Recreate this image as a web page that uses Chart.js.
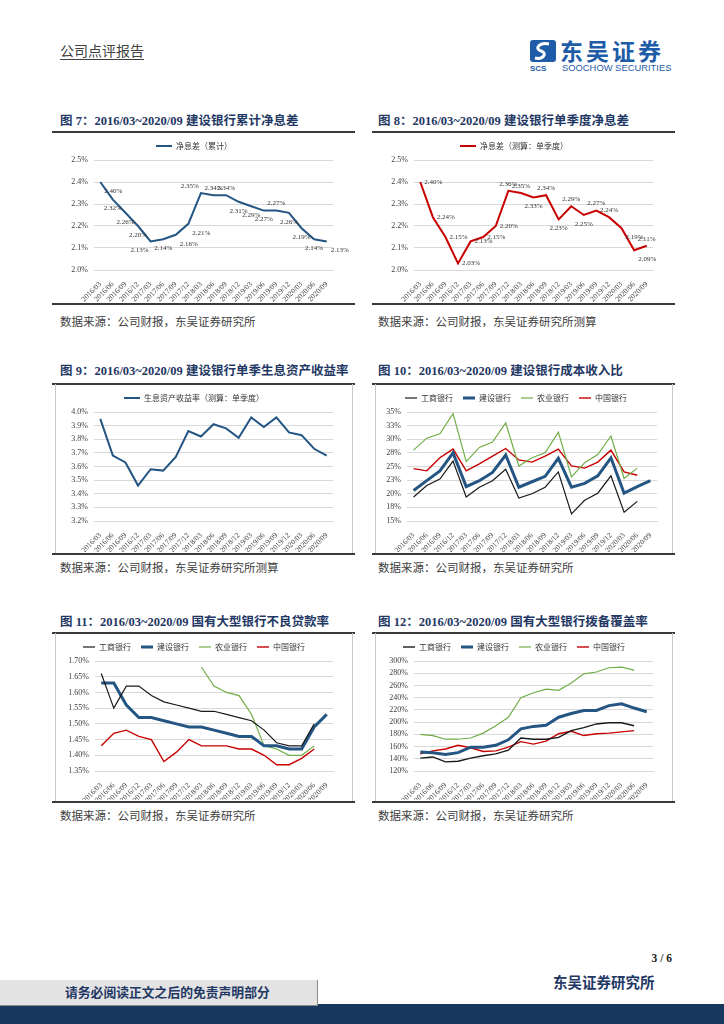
<!DOCTYPE html>
<html>
<head>
<meta charset="utf-8">
<script src="https://cdn.jsdelivr.net/npm/chart.js@4.4.0/dist/chart.umd.min.js"></script>
<style>
body{margin:0;width:724px;height:1024px;position:relative;background:#fff;overflow:hidden;font-family:"Liberation Serif","Noto Sans CJK SC",serif;}
.abs{position:absolute;white-space:nowrap;}
.title{font-weight:bold;font-size:12.5px;color:#1f3864;height:16px;line-height:16px;}
.rule{height:1.5px;background:#3a3a3a;}
.src{font-family:"Noto Sans CJK SC";font-size:11.5px;color:#404040;height:16px;line-height:16px;}
.box{border-left:1px solid #c8c8c8;border-right:1px solid #c8c8c8;box-sizing:border-box;}
.cw{position:absolute;}
</style>
</head>
<body>
<!-- header -->
<div class="abs" style="left:60px;top:40px;font-family:'Noto Sans CJK SC';font-size:14px;color:#404040;line-height:20px;text-decoration:underline;text-underline-offset:3px;">公司点评报告</div>
<svg class="abs" style="left:529px;top:39px" width="30" height="34">
  <rect x="1" y="1" width="26" height="22" rx="3" fill="#1f5ca8"/>
  <path d="M20 5 C10 3 5 10 12 12 C19 14 14 21 6 19" stroke="#fff" stroke-width="3" fill="none"/>
  <text x="1" y="32" font-family="Liberation Sans" font-weight="bold" font-size="8" fill="#1f5ca8">SCS</text>
</svg>
<div class="abs" style="left:560px;top:36px;font-family:'Noto Sans CJK SC';font-weight:bold;font-size:23px;color:#1f5ca8;letter-spacing:3px;line-height:28px;">东吴证券</div>
<div class="abs" style="left:562px;top:62px;font-family:'Liberation Sans';font-size:9.4px;color:#1f5ca8;line-height:11px;">SOOCHOW SECURITIES</div>

<!-- row 1 -->
<div class="abs title" style="left:60px;top:113px;">图 7：2016/03~2020/09 建设银行累计净息差</div>
<div class="abs title" style="left:378px;top:113px;">图 8：2016/03~2020/09 建设银行单季度净息差</div>
<div class="abs rule" style="left:52px;top:131px;width:303px;"></div>
<div class="abs rule" style="left:372px;top:131px;width:303px;"></div>
<div class="cw" style="left:55px;top:133px;width:297px;height:170px;"><canvas id="c7"></canvas></div>
<div class="cw" style="left:375px;top:133px;width:297px;height:170px;"><canvas id="c8"></canvas></div>
<div class="abs rule" style="left:52px;top:303px;width:303px;"></div>
<div class="abs rule" style="left:372px;top:303px;width:303px;"></div>
<div class="abs src" style="left:60px;top:313px;">数据来源：公司财报，东吴证券研究所</div>
<div class="abs src" style="left:378px;top:313px;">数据来源：公司财报，东吴证券研究所测算</div>

<!-- row 2 -->
<div class="abs title" style="left:60px;top:363px;">图 9：2016/03~2020/09 建设银行单季生息资产收益率</div>
<div class="abs title" style="left:378px;top:363px;">图 10：2016/03~2020/09 建设银行成本收入比</div>
<div class="abs rule" style="left:52px;top:383px;width:303px;"></div>
<div class="abs rule" style="left:372px;top:383px;width:303px;"></div>
<div class="abs box" style="left:55px;top:384px;width:298px;height:169px;"></div>
<div class="abs box" style="left:375px;top:384px;width:298px;height:169px;"></div>
<div class="cw" style="left:55px;top:384px;width:297px;height:168px;"><canvas id="c9"></canvas></div>
<div class="cw" style="left:375px;top:384px;width:297px;height:168px;"><canvas id="c10"></canvas></div>
<div class="abs rule" style="left:52px;top:553px;width:303px;"></div>
<div class="abs rule" style="left:372px;top:553px;width:303px;"></div>
<div class="abs src" style="left:60px;top:559px;">数据来源：公司财报，东吴证券研究所测算</div>
<div class="abs src" style="left:378px;top:559px;">数据来源：公司财报，东吴证券研究所</div>

<!-- row 3 -->
<div class="abs title" style="left:60px;top:614px;">图 11：2016/03~2020/09 国有大型银行不良贷款率</div>
<div class="abs title" style="left:378px;top:614px;">图 12：2016/03~2020/09 国有大型银行拨备覆盖率</div>
<div class="abs rule" style="left:52px;top:632px;width:303px;"></div>
<div class="abs rule" style="left:372px;top:632px;width:303px;"></div>
<div class="abs box" style="left:55px;top:633px;width:298px;height:168px;"></div>
<div class="abs box" style="left:375px;top:633px;width:298px;height:168px;"></div>
<div class="cw" style="left:55px;top:633px;width:297px;height:167px;"><canvas id="c11"></canvas></div>
<div class="cw" style="left:375px;top:633px;width:297px;height:167px;"><canvas id="c12"></canvas></div>
<div class="abs rule" style="left:52px;top:801px;width:303px;"></div>
<div class="abs rule" style="left:372px;top:801px;width:303px;"></div>
<div class="abs src" style="left:60px;top:807px;">数据来源：公司财报，东吴证券研究所</div>
<div class="abs src" style="left:378px;top:807px;">数据来源：公司财报，东吴证券研究所</div>

<!-- footer -->
<div class="abs" style="right:52px;top:950px;font-weight:bold;font-size:11.5px;color:#222;line-height:16px;">3 / 6</div>
<div class="abs" style="left:553px;top:974px;font-weight:bold;font-size:14.5px;color:#1f3864;line-height:18px;">东吴证券研究所</div>
<div class="abs" style="left:0;top:1004px;width:724px;height:20px;background:#17375e;"></div>
<div class="abs" style="left:0;top:980px;width:318px;height:26px;background:#e3e3e3;border-right:1px solid #8a8a8a;border-bottom:1px solid #8a8a8a;box-sizing:border-box;"></div>
<div class="abs" style="left:65px;top:984px;font-weight:bold;font-size:12.8px;color:#1f3864;line-height:18px;">请务必阅读正文之后的免责声明部分</div>

<script>
const quarters = ['2016/03','2016/06','2016/09','2016/12','2017/03','2017/06','2017/09','2017/12',
  '2018/03','2018/06','2018/09','2018/12','2019/03','2019/06','2019/09','2019/12','2020/03','2020/06','2020/09'];

// 建设银行 净息差 / 生息资产收益率 (%)
const nimCumulative = [2.40,2.32,2.26,2.20,2.13,2.14,2.16,2.21,2.35,2.34,2.34,2.31,2.29,2.27,2.27,2.26,2.19,2.14,2.13];
const nimQuarterly = [2.40,2.24,2.15,2.03,2.13,2.15,2.20,2.36,2.35,2.33,2.34,2.23,2.29,2.25,2.27,2.24,2.19,2.09,2.11];
const assetYield = [3.95,3.68,3.63,3.46,3.58,3.57,3.67,3.86,3.82,3.91,3.88,3.81,3.96,3.89,3.96,3.85,3.83,3.73,3.68];

const banks = ['工商银行','建设银行','农业银行','中国银行'];

// 成本收入比 (%)
const costIcbc = [19.4,21.5,22.7,26.0,19.4,21.2,22.4,24.5,19.2,20.0,21.2,24.0,16.3,18.8,20.1,23.3,16.6,18.6,null];
const costCcb = [20.6,22.4,24.2,27.5,21.3,22.4,23.9,27.1,21.2,22.2,23.2,26.5,21.2,21.9,23.3,26.6,20.1,21.3,22.4];
const costAbc = [28.0,30.2,31.0,34.7,25.9,28.5,29.5,33.0,25.1,26.6,27.5,31.3,23.1,25.7,27.2,30.6,22.8,24.7,null];
const costBoc = [24.6,24.2,26.6,28.2,24.2,25.5,26.9,28.3,26.2,25.8,26.9,28.2,25.1,24.7,25.8,28.0,24.0,23.4,null];

// 不良贷款率 (%)
const nplIcbc = [1.66,1.55,1.62,1.62,1.59,1.57,1.56,1.55,1.54,1.54,1.53,1.52,1.51,1.48,1.44,1.43,1.43,1.50,null];
const nplCcb = [1.63,1.63,1.56,1.52,1.52,1.51,1.50,1.49,1.49,1.48,1.47,1.46,1.46,1.43,1.43,1.42,1.42,1.49,1.53];
const nplAbc = [null,null,null,null,null,null,null,null,1.68,1.62,1.60,1.59,1.53,1.43,1.42,1.40,1.40,1.43,null];
const nplBoc = [1.43,1.47,1.48,1.46,1.45,1.38,1.41,1.45,1.43,1.43,1.43,1.42,1.42,1.40,1.37,1.37,1.39,1.42,null];

// 拨备覆盖率 (%)
const provIcbc = [141,143,135,136,141,145,148,154,174,172,172,175,186,191,197,199,199,194,null];
const provCcb = [151,150,147,150,159,159,162,171,189,193,195,208,214,219,219,227,230,223,217];
const provAbc = [180,178,172,172,174,182,194,208,240,248,254,252,264,279,282,289,290,285,null];
const provBoc = [148,153,156,162,158,152,153,159,168,164,169,181,185,178,181,182,184,186,null];

// where each data label sits: a=above b=below l=left r=right
const pos7 = ['br','b','b','b','bl','b','br','br','al','a','a','b','b','b','a','b','b','b','br'];
const pos8 = ['r','r','r','r','r','r','r','a','a','b','a','b','a','b','a','a','br','br','a'];

const BLUE = '#245583', RED = '#c80000', GREEN = '#70ad47', BLACK = '#1a1a1a';
const xFont = {size: 7.5, family: '"Liberation Serif"'};
const yFont = {size: 8, family: '"Liberation Serif"'};

const pointLabels = {
    id: 'pointLabels',
    afterDatasetsDraw(chart, args, opts) {
        if (!opts.pos) return;
        const ctx = chart.ctx;
        const meta = chart.getDatasetMeta(0);
        const vals = chart.data.datasets[0].data;
        ctx.save();
        ctx.font = '7px "Liberation Serif"';
        ctx.fillStyle = '#333';
        ctx.textBaseline = 'middle';
        meta.data.forEach((pt, i) => {
            const p = opts.pos[i];
            let dx = 0, dy = 0, align = 'center';
            if (p.includes('b')) dy = 9;
            if (p.includes('a')) dy = -7;
            if (p.includes('r')) { dx = 4; align = 'left'; }
            if (p.includes('l')) { dx = -2; align = 'right'; }
            ctx.textAlign = align;
            ctx.fillText(vals[i].toFixed(2) + '%', pt.x + dx, pt.y + dy);
        });
        ctx.restore();
    }
};

function lineChart(id, datasets, o) {
    return new Chart(document.getElementById(id), {
        type: 'line',
        data: {labels: quarters, datasets: datasets},
        options: {
            responsive: true,
            maintainAspectRatio: false,
            animation: false,
            layout: {padding: {top: 0, right: o.padRight, left: 0, bottom: 0}},
            elements: {point: {radius: 0}, line: {tension: 0}},
            plugins: {
                legend: {
                    labels: {
                        usePointStyle: true, pointStyle: 'line', pointStyleWidth: o.swatch || 14,
                        font: {size: 8, family: '"Noto Sans CJK SC"'}, color: '#333', padding: o.legendPad
                    }
                },
                tooltip: {enabled: false},
                pointLabels: {pos: o.labelPos}
            },
            scales: {
                x: {
                    offset: true,
                    grid: {display: false},
                    border: {color: '#d9d9d9'},
                    ticks: {autoSkip: false, minRotation: 45, maxRotation: 45, font: xFont, color: '#404040', padding: 2},
                    afterFit(s) { s.height = o.xHeight; }
                },
                y: {
                    min: o.min, max: o.max,
                    grid: {color: '#d9d9d9', drawTicks: false},
                    border: {display: false},
                    ticks: {stepSize: o.step, autoSkip: false, callback: o.fmt, font: yFont, color: '#404040', padding: 6},
                    afterFit(s) { s.width = o.yWidth; }
                }
            }
        },
        plugins: [pointLabels]
    });
}

function ds(label, data, color, width) {
    return {label: label, data: data, borderColor: color, backgroundColor: color, borderWidth: width, spanGaps: false};
}

lineChart('c7', [ds('净息差（累计）', nimCumulative, BLUE, 2)],
    {min: 2.0, max: 2.5, step: 0.1, fmt: v => v.toFixed(1) + '%', yWidth: 39, padRight: 19, xHeight: 33, legendPad: 9, labelPos: pos7, swatch: 16});
lineChart('c8', [ds('净息差（测算：单季度）', nimQuarterly, RED, 2)],
    {min: 2.0, max: 2.5, step: 0.1, fmt: v => v.toFixed(1) + '%', yWidth: 39, padRight: 19, xHeight: 33, legendPad: 9, labelPos: pos8, swatch: 16});
lineChart('c9', [ds('生息资产收益率（测算：单季度）', assetYield, BLUE, 2)],
    {min: 3.2, max: 4.0, step: 0.1, fmt: v => v.toFixed(1) + '%', yWidth: 39, padRight: 19, xHeight: 31, legendPad: 10, swatch: 16});
lineChart('c10', [
        ds(banks[0], costIcbc, BLACK, 1.2),
        ds(banks[1], costCcb, BLUE, 3),
        ds(banks[2], costAbc, GREEN, 1.2),
        ds(banks[3], costBoc, RED, 1.4)],
    {min: 15, max: 35, step: 2.5, fmt: v => Math.round(v) + '%', yWidth: 32, padRight: 15, xHeight: 31, legendPad: 10, swatch: 12});
lineChart('c11', [
        ds(banks[0], nplIcbc, BLACK, 1.2),
        ds(banks[1], nplCcb, BLUE, 3),
        ds(banks[2], nplAbc, GREEN, 1.2),
        ds(banks[3], nplBoc, RED, 1.4)],
    {min: 1.35, max: 1.70, step: 0.05, fmt: v => v.toFixed(2) + '%', yWidth: 40, padRight: 19, xHeight: 29, legendPad: 10, swatch: 12});
lineChart('c12', [
        ds(banks[0], provIcbc, BLACK, 1.4),
        ds(banks[1], provCcb, BLUE, 3),
        ds(banks[2], provAbc, GREEN, 1.2),
        ds(banks[3], provBoc, RED, 1.4)],
    {min: 120, max: 300, step: 20, fmt: v => v + '%', yWidth: 39, padRight: 19, xHeight: 29, legendPad: 10, swatch: 12});
</script>
</body>
</html>
